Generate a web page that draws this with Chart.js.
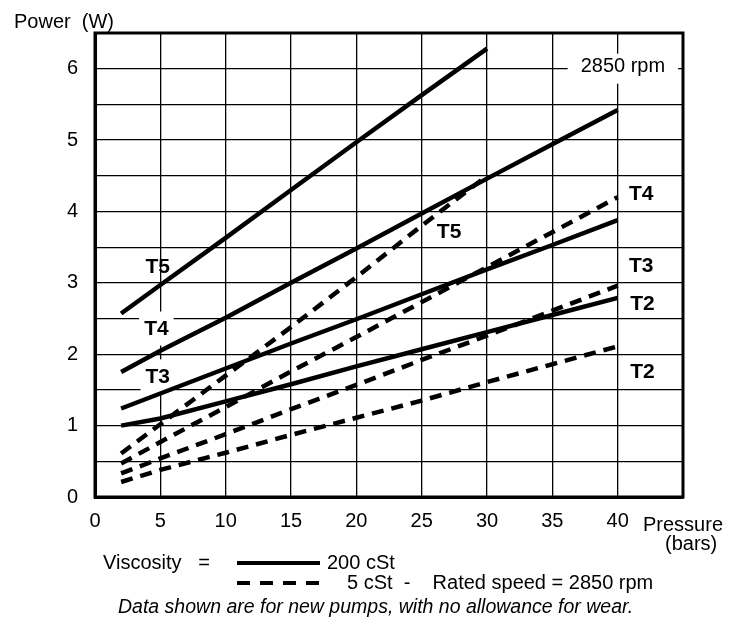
<!DOCTYPE html>
<html><head><meta charset="utf-8">
<script src="https://cdn.jsdelivr.net/npm/chart.js@4/dist/chart.umd.min.js"></script>
<style>html,body{margin:0;padding:0;background:#fff;}#wrap{width:738px;height:623px;position:relative;}</style>
</head><body><div id="wrap"><canvas id="c" width="738" height="623"></canvas></div>
<script>
// ---- data ----
const pressure = [2, 5, 10, 15, 20, 25, 30, 35, 40];
const solidT5 = [2.57, 2.97, 3.63, 4.30, 4.97, 5.63, 6.28, null, null];
const solidT4 = [1.75, 2.05, 2.51, 3.00, 3.48, 3.97, 4.46, 4.94, 5.42];
const solidT3 = [1.24, 1.45, 1.80, 2.15, 2.49, 2.84, 3.19, 3.53, 3.88];
const solidT2 = [1.00, 1.10, 1.34, 1.58, 1.83, 2.07, 2.31, 2.55, 2.79];
const dashT5 = [0.61, 1.02, 1.70, 2.38, 3.08, 3.80, 4.50, null, null];
const dashT4 = [0.47, 0.77, 1.26, 1.76, 2.24, 2.73, 3.22, 3.71, 4.20];
const dashT3 = [0.33, 0.54, 0.88, 1.23, 1.57, 1.92, 2.26, 2.61, 2.96];
const dashT2 = [0.21, 0.38, 0.62, 0.87, 1.11, 1.35, 1.61, 1.86, 2.11];
const xTickValues = [0, 5, 10, 15, 20, 25, 30, 35, 40];
const yTickValues = [0, 1, 2, 3, 4, 5, 6];
const curveText = ['T5', 'T4', 'T3', 'T5', 'T4', 'T3', 'T2', 'T2'];
const curveTextX = [4.8, 4.7, 4.8, 27.1, 41.8, 41.8, 41.9, 41.9];
const curveTextY = [3.24, 2.36, 1.69, 3.73, 4.26, 3.25, 2.71, 1.76];
const curveTextBg = [false, true, true, false, false, false, false, false];
const speedText = '2850 rpm';
const speedX = 40.4, speedY = 6.0;

const F = '"Liberation Sans", Arial, Helvetica, sans-serif';

function toXY(vals) {
  return pressure.map((p, i) => vals[i] === null ? null : { x: p, y: vals[i] }).filter(v => v);
}
function ds(vals, dashed) {
  return {
    data: toXY(vals), borderColor: '#000', borderWidth: 4.5,
    borderDash: dashed ? [12, 8] : [], pointRadius: 0, tension: 0,
    borderCapStyle: 'butt', fill: false
  };
}

const annot = {
  id: 'annot',
  beforeDatasetsDraw(chart) {
    const ctx = chart.ctx, xs = chart.scales.x, ys = chart.scales.y;
    ctx.save();
    ctx.fillStyle = '#fff';
    ctx.font = 'bold 21px ' + F;
    curveText.forEach((t, i) => {
      if (!curveTextBg[i]) return;
      const px = xs.getPixelForValue(curveTextX[i]), py = ys.getPixelForValue(curveTextY[i]);
      const w = ctx.measureText(t).width + 10;
      ctx.fillRect(px - w / 2, py - 17, w, 34);
    });
    ctx.font = '20px ' + F;
    const sx = xs.getPixelForValue(speedX), sy = ys.getPixelForValue(speedY);
    const sw = ctx.measureText(speedText).width + 26;
    ctx.fillRect(sx - sw / 2, sy - 15, sw, 30);
    ctx.restore();
  },
  afterDatasetsDraw(chart) {
    const ctx = chart.ctx, xs = chart.scales.x, ys = chart.scales.y, a = chart.chartArea;
    ctx.save();
    ctx.textAlign = 'center'; ctx.textBaseline = 'middle';
    ctx.fillStyle = '#000';
    ctx.font = 'bold 21px ' + F;
    curveText.forEach((t, i) => {
      const px = xs.getPixelForValue(curveTextX[i]), py = ys.getPixelForValue(curveTextY[i]);
      ctx.fillText(t, px, py + 1);
    });
    ctx.font = '20px ' + F;
    ctx.fillText(speedText, xs.getPixelForValue(speedX), ys.getPixelForValue(speedY) - 2);
    ctx.strokeStyle = '#000'; ctx.lineWidth = 3;
    ctx.strokeRect(a.left, a.top, a.right - a.left, a.bottom - a.top);
    ctx.restore();
  },
  afterDraw(chart) {
    const ctx = chart.ctx;
    ctx.save();
    ctx.fillStyle = '#000'; ctx.strokeStyle = '#000';
    ctx.textBaseline = 'alphabetic'; ctx.textAlign = 'left';
    ctx.font = '20px ' + F;
    ctx.fillText('Power  (W)', 14, 28);
    ctx.fillText('Pressure', 643, 531);
    ctx.fillText('(bars)', 665, 550);
    ctx.fillText('Viscosity   =', 103, 569);
    ctx.fillText('200 cSt', 327, 569);
    ctx.fillText('5 cSt  -    Rated speed = 2850 rpm', 347, 589);
    ctx.lineWidth = 4;
    ctx.beginPath(); ctx.moveTo(237, 563); ctx.lineTo(320, 563); ctx.stroke();
    ctx.setLineDash([13, 10]);
    ctx.beginPath(); ctx.moveTo(237, 583); ctx.lineTo(320, 583); ctx.stroke();
    ctx.setLineDash([]);
    ctx.font = 'italic 19.5px ' + F;
    ctx.fillText('Data shown are for new pumps, with no allowance for wear.', 118, 613);
    ctx.restore();
  }
};

new Chart(document.getElementById('c'), {
  type: 'line',
  data: {
    datasets: [ds(solidT5), ds(solidT4), ds(solidT3), ds(solidT2),
               ds(dashT5, true), ds(dashT4, true), ds(dashT3, true), ds(dashT2, true)]
  },
  options: {
    responsive: false, animation: false, devicePixelRatio: 1,
    layout: { padding: { top: 33, right: 55, bottom: 86, left: 0 } },
    plugins: { legend: { display: false }, tooltip: { enabled: false }, title: { display: false } },
    scales: {
      x: {
        type: 'linear', min: 0, max: 45,
        afterFit: s => { s.height = 40; },
        ticks: { stepSize: 5, padding: 12, color: '#000', maxRotation: 0,
          font: { family: F, size: 20 },
          callback: v => xTickValues.includes(v) ? String(v) : '' },
        grid: { color: '#000', lineWidth: 1.3, drawTicks: false },
        border: { color: '#000', width: 3 }
      },
      y: {
        type: 'linear', min: 0, max: 6.5,
        afterFit: s => { s.width = 95; },
        ticks: { stepSize: 0.5, padding: 17, color: '#000', autoSkip: false,
          font: { family: F, size: 20 },
          callback: v => yTickValues.includes(v) ? String(v) : '' },
        grid: { color: '#000', lineWidth: 1.3, drawTicks: false },
        border: { color: '#000', width: 3 }
      }
    }
  },
  plugins: [annot]
});
</script></body></html>
